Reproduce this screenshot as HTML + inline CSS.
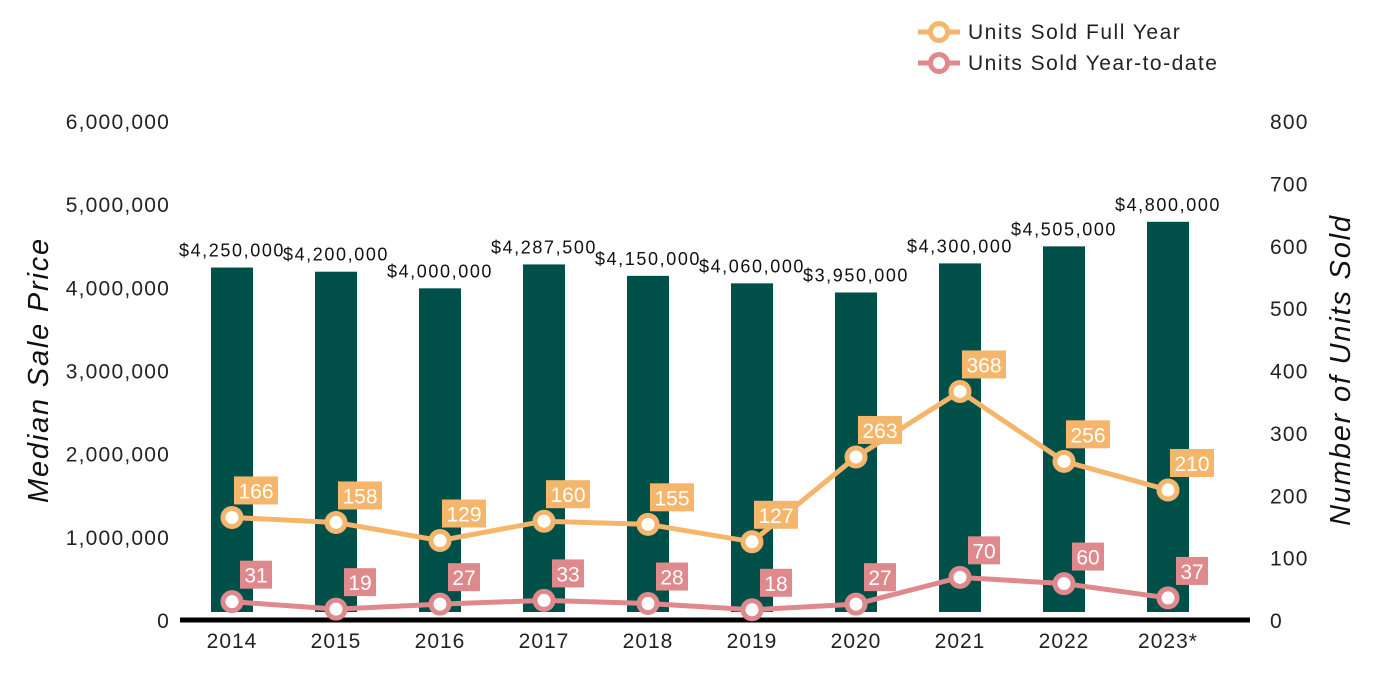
<!DOCTYPE html>
<html><head><meta charset="utf-8"><style>
body{margin:0;background:#fff;}
svg{display:block;font-family:"Liberation Sans",Arial,sans-serif;}
</style></head><body>
<svg id="chart" width="1400" height="700">
<g id="legend">
 <g>
  <line x1="918" y1="32" x2="960" y2="32" stroke="#F5B66B" stroke-width="5"/>
  <circle cx="939" cy="32" r="8.5" fill="#fff" stroke="#F5B66B" stroke-width="5"/>
  <text x="968" y="39" font-size="21" letter-spacing="1.5" fill="#222">Units Sold Full Year</text>
 </g>
 <g>
  <line x1="918" y1="63" x2="960" y2="63" stroke="#E0898C" stroke-width="5"/>
  <circle cx="939" cy="63" r="8.5" fill="#fff" stroke="#E0898C" stroke-width="5"/>
  <text x="968" y="70" font-size="21" letter-spacing="1.5" fill="#222">Units Sold Year-to-date</text>
 </g>
</g>
<text transform="translate(48,370) rotate(-90)" text-anchor="middle" font-size="29" letter-spacing="1.8" font-style="italic" fill="#111">Median Sale Price</text>
<text transform="translate(1350,370) rotate(-90)" text-anchor="middle" font-size="29" letter-spacing="1.8" font-style="italic" fill="#111">Number of Units Sold</text>
<g id="axes"></g><g id="bars"></g><g id="lines"></g>
</svg>
<script>
const categories=["2014","2015","2016","2017","2018","2019","2020","2021","2022","2023*"];
const prices=[4250000,4200000,4000000,4287500,4150000,4060000,3950000,4300000,4505000,4800000];
const fullYear=[166,158,129,160,155,127,263,368,256,210];
const ytd=[31,19,27,33,28,18,27,70,60,37];
const leftTicks=[0,1000000,2000000,3000000,4000000,5000000,6000000];
const rightTicks=[0,100,200,300,400,500,600,700,800];
const NS="http://www.w3.org/2000/svg";
const y0=621,yTop=122;
const yL=v=>y0-v/6000000*(y0-yTop);
const yR=v=>y0-v/800*(y0-yTop);
const xC=i=>232+i*104;
function mk(tag,attrs,parent,text){const e=document.createElementNS(NS,tag);for(const k in attrs)e.setAttribute(k,attrs[k]);if(text!==undefined)e.textContent=text;parent.appendChild(e);return e;}
const axes=document.getElementById('axes'),bars=document.getElementById('bars'),lines=document.getElementById('lines');
leftTicks.forEach(t=>{const e=mk('text',{x:170,y:yL(t)+7,'text-anchor':'end','font-size':21,'letter-spacing':1.2,fill:'#222'},axes,t.toLocaleString('en-US'));

});
rightTicks.forEach(t=>{const e=mk('text',{x:1270,y:yR(t)+7,'font-size':21,'letter-spacing':1.2,fill:'#222'},axes,String(t));

});
categories.forEach((c,i)=>{const e=mk('text',{x:xC(i),y:648,'text-anchor':'middle','font-size':21,'letter-spacing':1,fill:'#222'},axes,c);

});
prices.forEach((p,i)=>{const y=yL(p);
const r=mk('rect',{x:xC(i)-21,y:y,width:42,height:612-y,fill:'#00504A'},bars);


const t=mk('text',{x:xC(i),y:y-11,'text-anchor':'middle','font-size':18,'letter-spacing':1.6,fill:'#111'},bars,'$'+p.toLocaleString('en-US'));

});
const base=mk('line',{x1:180,y1:620,x2:1250,y2:620,stroke:'#000','stroke-width':5},axes);


function series(vals,color,name){
 const pl=mk('polyline',{points:vals.map((v,i)=>xC(i)+','+yR(v)).join(' '),fill:'none',stroke:color,'stroke-width':5},lines);
 
 
 vals.forEach((v,i)=>{const x=xC(i),y=yR(v);
  const c=mk('circle',{cx:x,cy:y,r:9,fill:'#fff',stroke:color,'stroke-width':5},lines);
  
  
  const s=String(v),w=s.length*12+8;
  const b=mk('rect',{x:x+24-w/2,y:y-41,width:w,height:28,fill:color},lines);
  
  
  const t=mk('text',{x:x+24,y:y-19,'text-anchor':'middle','font-size':21,fill:'#fff'},lines,s);
  
  });
}
series(fullYear,'#F5B66B','full-year');
series(ytd,'#E0898C','ytd');
</script>
</body></html>
